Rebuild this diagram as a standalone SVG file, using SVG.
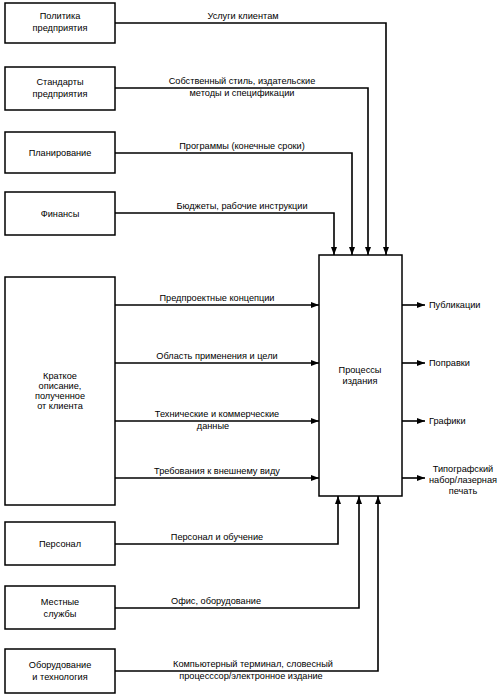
<svg xmlns="http://www.w3.org/2000/svg" width="501" height="696" viewBox="0 0 501 696">
<defs>
<marker id="ah" viewBox="0 0 8 6" refX="8" refY="3" markerWidth="8" markerHeight="6" markerUnits="userSpaceOnUse" orient="auto">
<path d="M0,0 L8,3 L0,6 Z" fill="#000"/>
</marker>
<style>
.box{fill:#fff;stroke:#000;stroke-width:1.5}
.ln{fill:none;stroke:#000;stroke-width:1.6;marker-end:url(#ah)}
text{font-family:"Liberation Sans",Arial,sans-serif;font-size:9.2px;fill:#000}
.c{text-anchor:middle}
</style>
</defs>
<rect width="501" height="696" fill="#fff"/>
<g id="connectors">
<path class="ln" d="M115,23 H386 V255"/>
<path class="ln" d="M115,88 H368 V255"/>
<path class="ln" d="M115,153 H352 V255"/>
<path class="ln" d="M115,213 H334 V255"/>
<path class="ln" d="M115,305 H319"/>
<path class="ln" d="M115,363 H319"/>
<path class="ln" d="M115,421 H319"/>
<path class="ln" d="M115,478 H319"/>
<path class="ln" d="M402,305 H425"/>
<path class="ln" d="M402,363 H425"/>
<path class="ln" d="M402,421 H425"/>
<path class="ln" d="M402,478 H425"/>
<path class="ln" d="M115,544 H338 V496"/>
<path class="ln" d="M115,608 H359 V496"/>
<path class="ln" d="M115,671 H378 V496"/>
<text class="c" x="243" y="19">Услуги клиентам</text>
<text class="c" x="242" y="84">Собственный стиль, издательские</text>
<text class="c" x="242" y="96">методы и спецификации</text>
<text class="c" x="242" y="149">Программы (конечные сроки)</text>
<text class="c" x="242" y="209">Бюджеты, рабочие инструкции</text>
<text class="c" x="217" y="301">Предпроектные концепции</text>
<text class="c" x="217" y="359">Область применения и цели</text>
<text class="c" x="217" y="417">Технические и коммерческие</text>
<text class="c" x="213" y="429">данные</text>
<text class="c" x="217" y="474">Требования к внешнему виду</text>
<text class="c" x="217" y="540">Персонал и обучение</text>
<text class="c" x="216" y="604">Офис, оборудование</text>
<text class="c" x="253" y="667">Компьютерный терминал, словесный</text>
<text class="c" x="251" y="679">процесссор/электронное издание</text>
<text x="429" y="308">Публикации</text>
<text x="429" y="366">Поправки</text>
<text x="429" y="424">Графики</text>
<text class="c" x="463" y="472">Типографский</text>
<text class="c" x="463" y="483">набор/лазерная</text>
<text class="c" x="463" y="494">печать</text>
</g>
<g id="n1"><rect class="box" x="5" y="3" width="110" height="40"/><text class="c" x="60" y="19">Политика</text><text class="c" x="60" y="31">предприятия</text></g>
<g id="n2"><rect class="box" x="5" y="67" width="110" height="43"/><text class="c" x="60" y="85">Стандарты</text><text class="c" x="60" y="97">предприятия</text></g>
<g id="n3"><rect class="box" x="5" y="132" width="110" height="41"/><text class="c" x="60" y="156">Планирование</text></g>
<g id="n4"><rect class="box" x="5" y="192" width="110" height="43"/><text class="c" x="60" y="217">Финансы</text></g>
<g id="n5"><rect class="box" x="5" y="277" width="110" height="228"/><text class="c" x="60" y="379">Краткое</text><text class="c" x="60" y="389">описание,</text><text class="c" x="60" y="399">полученное</text><text class="c" x="60" y="409">от клиента</text></g>
<g id="n6"><rect class="box" x="5" y="522" width="110" height="43"/><text class="c" x="60" y="547">Персонал</text></g>
<g id="n7"><rect class="box" x="5" y="586" width="110" height="43"/><text class="c" x="60" y="605">Местные</text><text class="c" x="60" y="617">службы</text></g>
<g id="n8"><rect class="box" x="5" y="649" width="110" height="44"/><text class="c" x="60" y="668">Оборудование</text><text class="c" x="60" y="680">и технология</text></g>
<g id="proc"><rect class="box" x="319" y="255" width="83" height="241"/><text class="c" x="360" y="373">Процессы</text><text class="c" x="360" y="384">издания</text></g>
</svg>
